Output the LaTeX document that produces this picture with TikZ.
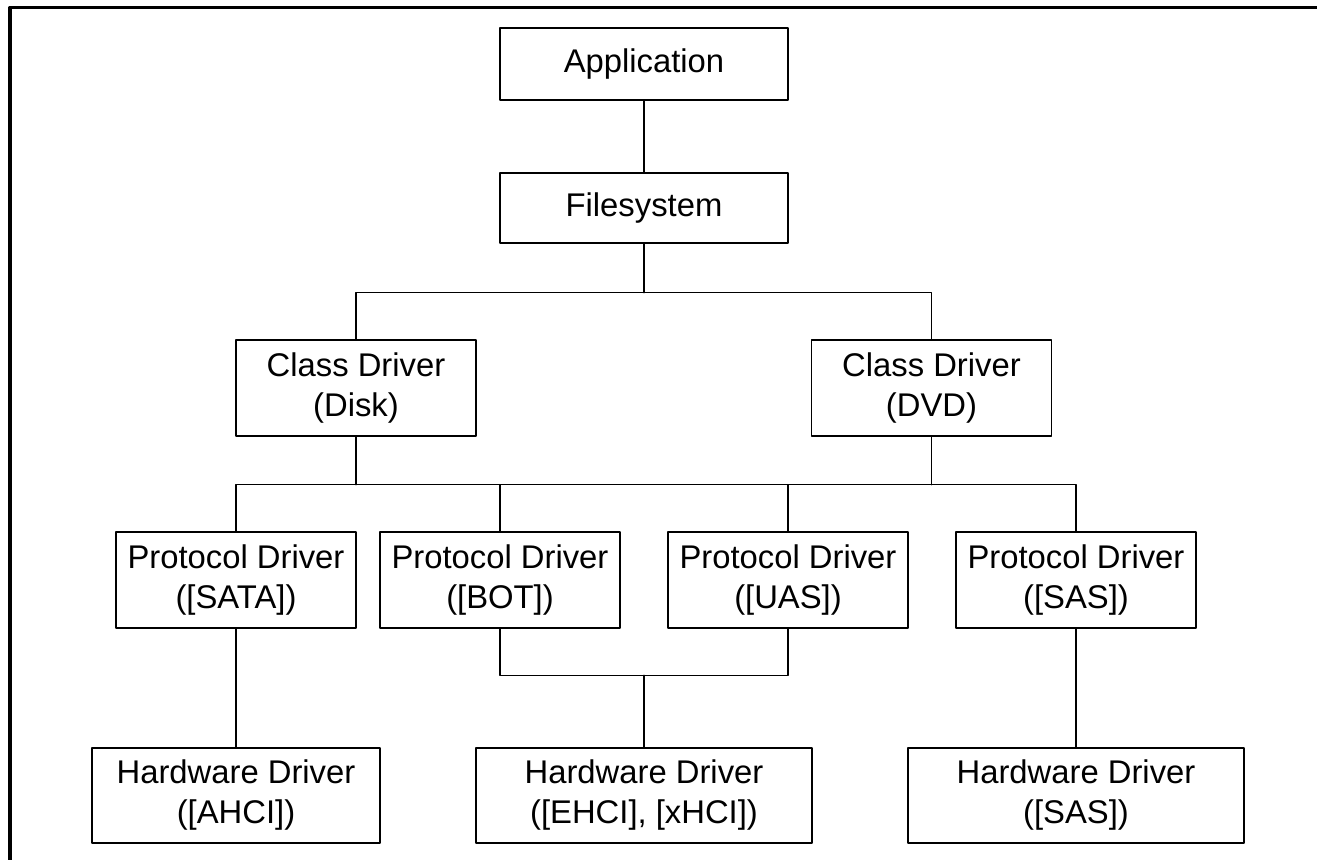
\documentclass[tikz,border=0pt]{standalone}
\usepackage{fontspec}
\setmainfont{Liberation Sans}
\usetikzlibrary{positioning}
\tikzset{
  every picture/.style={line join=round, line cap=round},
  drv/.style={draw, line width=0.7pt, align=center, inner sep=0pt, font=\fontsize{16.4}{20}\selectfont},
  topbox/.style={drv, minimum width=144pt, minimum height=36pt},
  classbox/.style={drv, minimum width=120pt, minimum height=48pt},
  protobox/.style={drv, minimum width=120pt, minimum height=48pt},
  hwbox/.style={drv, minimum height=47.5pt},
  link/.style={line width=0.7pt},
}

\begin{document}
\begin{tikzpicture}[x=0.5pt,y=-0.5pt]
\useasboundingbox (0,0) rectangle (1317,860);
\draw[line width=1.7pt, line cap=butt](10,880)--(10,7.5)--(1340,7.5);
% upper part
\node[topbox] (app) at (644,64) {Application};
\node[topbox, minimum height=35pt] (fs) at (644,208) {Filesystem};
\node[classbox] (disk) at (356,388) {Class Driver\\(Disk)};
\node[classbox] (dvd) at (931.5,388) {Class Driver\\(DVD)};
% protocol drivers
\node[protobox] (sata) at (236,580) {Protocol Driver\\([SATA])};
\node[protobox] (bot) at (500,580) {Protocol Driver\\([BOT])};
\node[protobox] (uas) at (788,580) {Protocol Driver\\([UAS])};
\node[protobox] (psas) at (1076,580) {Protocol Driver\\([SAS])};
% hardware drivers
\node[hwbox, minimum width=144pt] (ahci) at (236,795.5) {Hardware Driver\\([AHCI])};
\node[hwbox, minimum width=168pt] (ehci) at (644,795.5) {Hardware Driver\\([EHCI], [xHCI])};
\node[hwbox, minimum width=168pt] (hsas) at (1076,795.5) {Hardware Driver\\([SAS])};

\draw[link](app)--(fs);
\draw[link](fs.south)--++(0,49)coordinate(fsj);
\draw[link](disk.north)|-(fsj)-|(dvd.north);
\draw[link](disk.south)--++(0,48)coordinate(dj);
\draw[link](sata.north)|-(dj)-|(psas.north);
\draw[link](bot.north)--(bot.north|-dj);
\draw[link](uas.north)--(uas.north|-dj);
\draw[link](dvd.south)--(dvd.south|-dj);
\draw[link](ehci.north)--++(0,-72)coordinate(hj);
\draw[link](bot.south)|-(hj)-|(uas.south);
\draw[link](sata)--(ahci);
\draw[link](psas)--(hsas);
\end{tikzpicture}
\end{document}
